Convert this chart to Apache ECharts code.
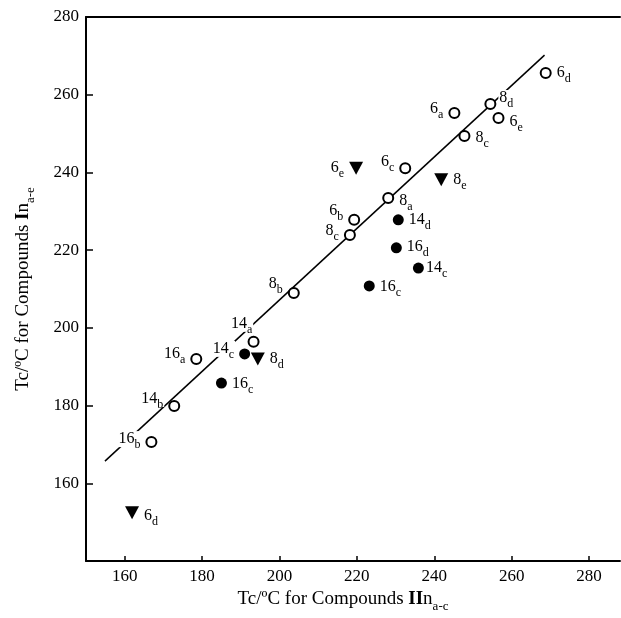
<!DOCTYPE html>
<html>
<head>
<meta charset="utf-8">
<script src="https://cdn.jsdelivr.net/npm/echarts@6/dist/echarts.min.js"></script>
<style>
  html, body { margin: 0; padding: 0; background: #fff; }
  #chart { width: 621px; height: 618px; }
</style>
</head>
<body>
<div id="chart"></div>
<script>
// 数据
const xTicks = [160, 180, 200, 220, 240, 260, 280]

// 空心圆
const openPts = [[268.8, 265.6], [254.5, 257.6], [245.2, 255.3], [256.6, 254.0], [247.8, 249.4],
  [232.5, 241.1], [228.1, 233.4], [219.3, 227.8], [218.2, 223.9], [203.7, 209.0],
  [193.3, 196.4], [178.5, 192.0], [172.8, 179.9], [166.9, 170.6]]
const openLbl = [['6', 'd'], ['8', 'd'], ['6', 'a'], ['6', 'e'], ['8', 'c'],
  ['6', 'c'], ['8', 'a'], ['6', 'b'], ['8', 'c'], ['8', 'b'],
  ['14', 'a'], ['16', 'a'], ['14', 'b'], ['16', 'b']]

// 实心圆
const filledPts = [[230.7, 227.8], [230.2, 220.6], [235.9, 215.4], [223.2, 210.8], [191.0, 193.3], [185.0, 185.8]]
const filledLbl = [['14', 'd'], ['16', 'd'], ['14', 'c'], ['16', 'c'], ['14', 'c'], ['16', 'c']]

// 倒三角
const triPts = [[219.8, 241.1], [241.8, 238.1], [194.4, 192.0], [161.9, 152.4]]
const triLbl = [['6', 'e'], ['8', 'e'], ['8', 'd'], ['6', 'd']]

// 拟合直线两端
const fitLine = [[154.9, 165.7], [268.5, 270.2]]

// 标签摆放 [位置, dx, dy]
const openPos = [['right', 0, 0], ['right', -2, -6], ['left', 0, -4], ['right', 0, 4], ['right', 0, 2],
  ['left', 0, -6], ['right', 0, 3], ['left', 0, -9], ['left', 0, -4], ['left', 0, -9],
  ['top', -12, 0], ['left', 0, -5], ['left', 0, -7], ['left', 0, -3]]
const filledPos = [['right', 0, 0], ['right', 0, -1], ['right', -3, 0], ['right', 0, 1], ['left', 0, -5], ['right', 0, 1]]
const triPos = [['left', 0, 0], ['right', 0, 0], ['right', 0, 0], ['right', 0, 3]]

const serif = 'Liberation Serif'
const richSub = {
  n: { fontFamily: serif, fontSize: 16, lineHeight: 16, color: '#000', verticalAlign: 'top' },
  s: { fontFamily: serif, fontSize: 12, lineHeight: 12, color: '#000', verticalAlign: 'top', padding: [8, 0, 0, 0] }
}
const richName = {
  t: { fontFamily: serif, fontSize: 19, color: '#000', lineHeight: 19, verticalAlign: 'top' },
  b: { fontFamily: serif, fontSize: 19, color: '#000', fontWeight: 'bold', lineHeight: 19, verticalAlign: 'top' },
  s: { fontFamily: serif, fontSize: 13, color: '#000', lineHeight: 13, verticalAlign: 'top', padding: [10, 0, 0, 0] }
}

function makeData (pts, lbl, pos) {
  return pts.map((p, i) => {
    return {
      value: p,
      label: {
        show: true,
        position: pos[i][0],
        distance: 4,
        offset: [pos[i][1], pos[i][2]],
        formatter: '{n|' + lbl[i][0] + '}{s|' + lbl[i][1] + '}',
        backgroundColor: '#fff',
        padding: [0, 1],
        rich: richSub
      }
    }
  })
}

const chartInstance = echarts.init(document.getElementById('chart'))
const option = {
  backgroundColor: '#fff',
  animation: false,
  grid: { left: 86, top: 17, right: 1, bottom: 57 },
  xAxis: [
    {
      type: 'value',
      min: 150,
      max: 288,
      name: '{t|Tc/ºC for Compounds }{b|II}{t|n}{s|a-c}',
      nameLocation: 'middle',
      nameGap: 28,
      nameTextStyle: { padding: [0, 20, 0, 0], rich: richName },
      axisLine: { lineStyle: { color: '#000', width: 2 } },
      axisTick: { inside: true, length: 5, customValues: xTicks, lineStyle: { color: '#000', width: 1.5 } },
      axisLabel: { customValues: xTicks, fontFamily: serif, fontSize: 17, color: '#000', margin: 7 },
      splitLine: { show: false }
    },
    {
      type: 'value',
      position: 'top',
      min: 150,
      max: 288,
      axisLine: { show: true, lineStyle: { color: '#000', width: 2 } },
      axisTick: { show: false },
      axisLabel: { show: false },
      splitLine: { show: false }
    }
  ],
  yAxis: {
    type: 'value',
    min: 140,
    max: 280,
    interval: 20,
    name: '{t|Tc/ºC for Compounds }{b|I}{t|n}{s|a-e}',
    nameLocation: 'middle',
    nameGap: 53,
    nameTextStyle: { rich: richName },
    axisLine: { show: true, lineStyle: { color: '#000', width: 2 } },
    axisTick: { inside: true, length: 7, lineStyle: { color: '#000', width: 1.5 } },
    axisLabel: { showMinLabel: false, fontFamily: serif, fontSize: 17, color: '#000', margin: 7 },
    splitLine: { show: false }
  },
  series: [
    {
      type: 'line',
      data: fitLine,
      symbol: 'none',
      z: 1,
      lineStyle: { color: '#000', width: 1.5 }
    },
    {
      type: 'scatter',
      data: makeData(openPts, openLbl, openPos),
      symbol: 'circle',
      symbolSize: 10,
      z: 3,
      itemStyle: { color: '#fff', borderColor: '#000', borderWidth: 2, opacity: 1 }
    },
    {
      type: 'scatter',
      data: makeData(filledPts, filledLbl, filledPos),
      symbol: 'circle',
      symbolSize: 11,
      z: 3,
      itemStyle: { color: '#000', opacity: 1 }
    },
    {
      type: 'scatter',
      data: makeData(triPts, triLbl, triPos),
      symbol: 'triangle',
      symbolRotate: 180,
      symbolSize: [14, 13],
      z: 3,
      itemStyle: { color: '#000', opacity: 1 }
    }
  ]
}
chartInstance.setOption(option)
</script>
</body>
</html>
